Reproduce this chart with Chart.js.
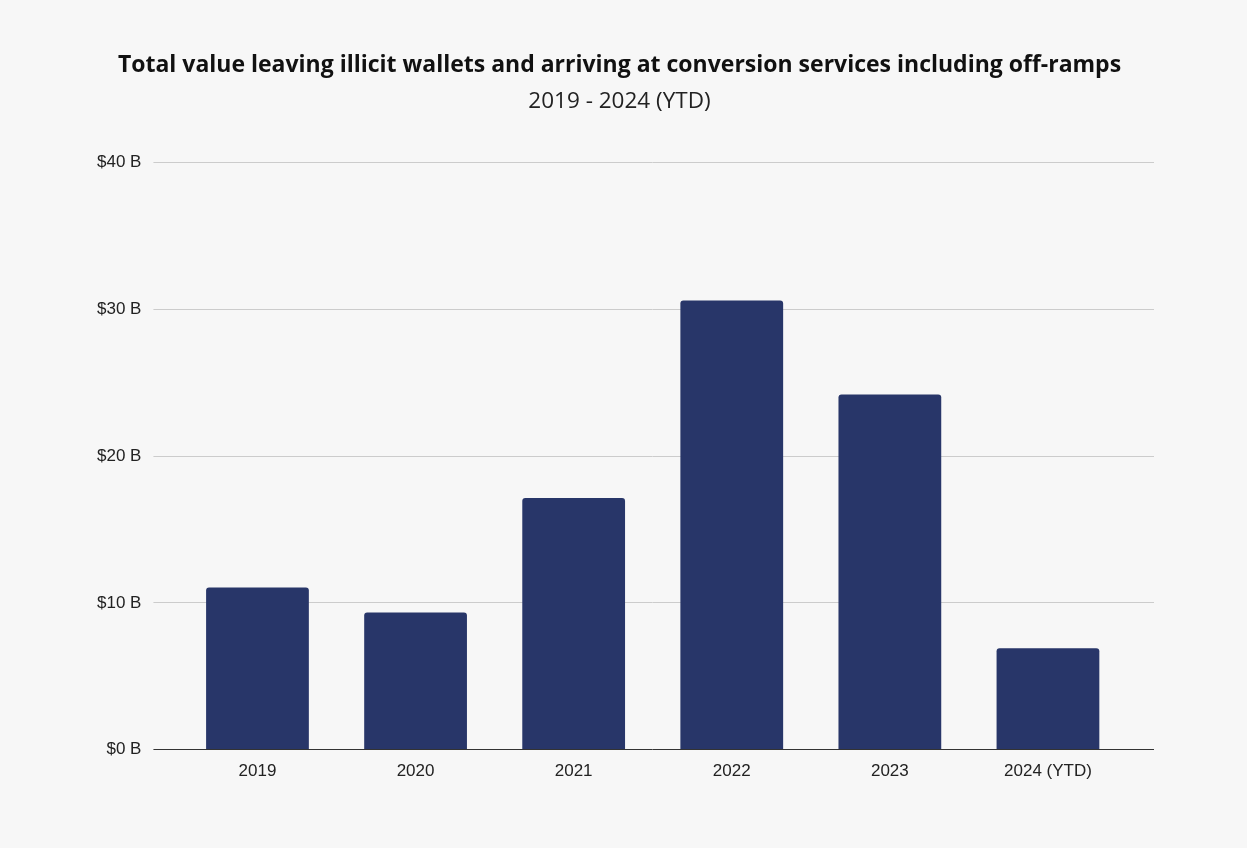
<!DOCTYPE html>
<html>
<head>
<meta charset="utf-8">
<script src="https://cdn.jsdelivr.net/npm/chart.js@4"></script>
<style>
  html, body { margin: 0; padding: 0; background: #f7f7f7; }
  #wrap { width: 1247px; height: 848px; }
</style>
</head>
<body>
<div id="wrap"><canvas id="illicitChart" width="1247" height="848"></canvas></div>
<script>
// chart data
var years  = ['2019', '2020', '2021', '2022', '2023', '2024 (YTD)'];
var values = [11.05, 9.35, 17.15, 30.6, 24.2, 6.9];   // billions USD
var yTicks = [0, 10, 20, 30, 40];

var barColor = '#283669';
var gridColor = '#cccccc';
var axisColor = '#333333';

var ctx = document.getElementById('illicitChart').getContext('2d');
var myChart = new Chart(ctx, {
    type: 'bar',
    data: {
        labels: years,
        datasets: [{
            label: 'Value',
            data: values,
            backgroundColor: barColor,
            borderRadius: 3,
            borderSkipped: 'bottom',
            categoryPercentage: 0.65,
            barPercentage: 1.0
        }]
    },
    options: {
        responsive: false,
        animation: false,
        layout: {
            padding: { top: 52, left: 85, right: 93, bottom: 62 }
        },
        plugins: {
            legend: { display: false },
            tooltip: { enabled: false },
            title: {
                display: true,
                text: 'Total value leaving illicit wallets and arriving at conversion services including off-ramps',
                color: '#111111',
                font: { family: 'Open Sans', size: 23, weight: 'bold' },
                padding: { top: 0, bottom: 8 }
            },
            subtitle: {
                display: true,
                text: '2019 - 2024 (YTD)',
                color: '#222222',
                font: { family: 'Open Sans', size: 22.5, weight: 'normal' },
                padding: { top: 0, bottom: 48 }
            }
        },
        scales: {
            x: {
                grid: { display: false },
                border: { display: false },
                ticks: {
                    color: '#222222',
                    font: { family: 'Liberation Sans', size: 17 },
                    padding: 4
                }
            },
            y: {
                min: 0,
                max: 40,
                afterBuildTicks: function(axis) {
                    axis.ticks = yTicks.map(function(v){ return { value: v }; });
                },
                border: { display: false },
                grid: {
                    color: function(c) { return c.tick.value === 0 ? axisColor : gridColor; },
                    lineWidth: 1,
                    tickLength: 25
                },
                ticks: {
                    color: '#222222',
                    font: { family: 'Liberation Sans', size: 17 },
                    padding: 12,
                    callback: function(v) { return '$' + v + ' B'; }
                }
            },
            // right-hand stub so the grid lines run past the last bar
            y2: {
                position: 'right',
                min: 0,
                max: 40,
                afterBuildTicks: function(axis) {
                    axis.ticks = yTicks.map(function(v){ return { value: v }; });
                },
                border: { display: false },
                grid: {
                    drawOnChartArea: false,
                    color: function(c) { return c.tick.value === 0 ? axisColor : gridColor; },
                    tickLength: 27
                },
                ticks: { display: false }
            }
        }
    }
});
myChart.update();
</script>
</body>
</html>
